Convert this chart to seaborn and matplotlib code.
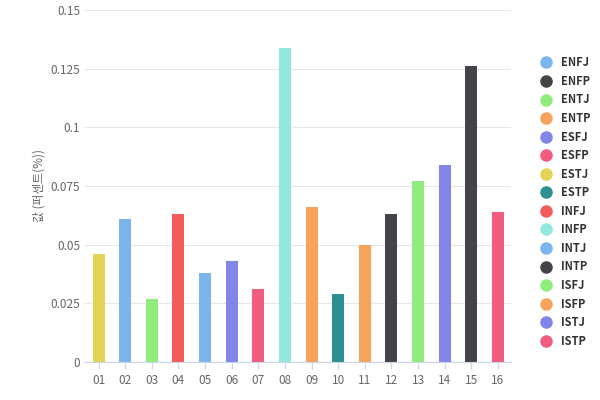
import matplotlib
matplotlib.use("Agg")
import matplotlib.pyplot as plt
from matplotlib.lines import Line2D
import seaborn as sns
import pandas as pd

types = ["ENFJ","ENFP","ENTJ","ENTP","ESFJ","ESFP","ESTJ","ESTP",
         "INFJ","INFP","INTJ","INTP","ISFJ","ISFP","ISTJ","ISTP"]
palette = ["#7cb5ec","#434348","#90ed7d","#f7a35c","#8085e9","#f15c80","#e4d354","#2b908f",
           "#f45b5b","#91e8e1","#7cb5ec","#434348","#90ed7d","#f7a35c","#8085e9","#f15c80"]
categories = ["01","02","03","04","05","06","07","08","09","10","11","12","13","14","15","16"]
bar_types = ["ESTJ","ENFJ","ENTJ","INFJ","INTJ","ESFJ","ESFP","INFP",
             "ENTP","ESTP","ISFP","ENFP","ISFJ","ISTJ","INTP","ISTP"]
values = [0.046,0.061,0.027,0.063,0.038,0.043,0.031,0.134,
          0.066,0.029,0.050,0.063,0.077,0.084,0.126,0.064]

cmap = dict(zip(types, palette))
df = pd.DataFrame({"cat": categories, "type": bar_types, "val": values})

fams = ["Noto Sans CJK JP", "Noto Sans CJK KR", "DejaVu Sans"]
plt.rcParams["font.family"] = "sans-serif"
plt.rcParams["font.sans-serif"] = fams
fig = plt.figure(figsize=(6, 4), dpi=100)
ax = fig.add_axes([0.142, 0.095, 0.71, 0.88])
sns.barplot(data=df, x="cat", y="val", hue="type", palette=cmap, dodge=False,
            width=0.45, legend=False, ax=ax, saturation=1)
ax.set_ylim(0, 0.15)
ax.set_yticks([0, 0.025, 0.05, 0.075, 0.1, 0.125, 0.15])
ax.set_yticklabels(["0","0.025","0.05","0.075","0.1","0.125","0.15"])
ax.grid(axis="y", color="#e6e6e6", lw=0.8)
ax.set_axisbelow(True)
for s in ["top","right","left"]:
    ax.spines[s].set_visible(False)
ax.spines["bottom"].set_color("#ccd6eb")
ax.tick_params(axis="both", colors="#666666", labelsize=8.5, length=0)
ax.tick_params(axis="x", length=5, color="#ccd6eb")
ax.set_xlabel("")
ax.set_ylabel("값 (퍼센트(%))", color="#666666", fontsize=8.5)
handles = [Line2D([], [], marker="o", ls="", color=c, markersize=8) for c in palette]
fig.legend(handles, types, loc="center left", bbox_to_anchor=(0.875, 0.495), frameon=False,
           labelspacing=0.5, handletextpad=0.3,
           prop={"weight": "bold", "size": 8})
for t in fig.legends[0].get_texts():
    t.set_color("#333333")
fig.savefig("out.png")
